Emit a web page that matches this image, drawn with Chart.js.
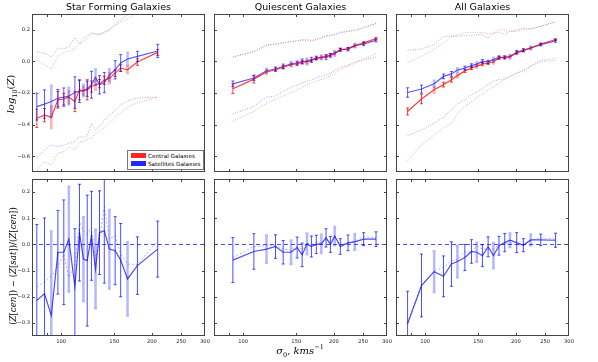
<!DOCTYPE html>
<html>
<head>
<meta charset="utf-8">
<script src="https://cdn.jsdelivr.net/npm/chart.js@4.4.1/dist/chart.umd.min.js"></script>
<style>
    body { margin: 0; background: #fff; }
    #wrap { position: relative; width: 598px; height: 362px; overflow: hidden; font-family: "DejaVu Sans", sans-serif; }
    canvas { position: absolute; }
    .title { position: absolute; top: 1px; width: 173px; text-align: center; font-size: 9.5px; color: #000; }
    .ylab { position: absolute; white-space: nowrap; font-family: "DejaVu Serif", serif; color: #000; transform: translate(-50%, -50%) rotate(-90deg); }
    .xlab { position: absolute; white-space: nowrap; font-family: "DejaVu Serif", serif; color: #000; transform: translate(-50%, -50%); font-size: 10px; }
    sub, sup { font-size: 65%; }
    #legend { position: absolute; left: 127px; top: 150px; width: 75px; height: 18px; border: 1px solid #777; background: #fff; font-size: 5.7px; }
    #legend div { position: absolute; left: 3px; height: 6px; line-height: 6px; white-space: nowrap; }
    #legend span { display: inline-block; width: 15px; height: 5px; margin-right: 2px; vertical-align: top; }
</style>
</head>
<body>
<div id="wrap">
    <canvas id="sfTop" width="213" height="186" style="left:2px;top:0px"></canvas>
    <canvas id="qTop" width="213" height="186" style="left:184px;top:0px"></canvas>
    <canvas id="allTop" width="213" height="186" style="left:366px;top:0px"></canvas>
    <canvas id="sfBot" width="213" height="185" style="left:2px;top:165px"></canvas>
    <canvas id="qBot" width="213" height="185" style="left:184px;top:165px"></canvas>
    <canvas id="allBot" width="213" height="185" style="left:366px;top:165px"></canvas>

    <div class="title" style="left:32px">Star Forming Galaxies</div>
    <div class="title" style="left:214px">Quiescent Galaxies</div>
    <div class="title" style="left:396px">All Galaxies</div>

    <div class="ylab" style="left:12px;top:94px;font-size:10px"><i>log</i><sub>10</sub>(<i>Z</i>)</div>
    <div class="ylab" style="left:13px;top:266px;font-size:8.6px">(<i>Z</i>[<i>cen</i>]) &minus; (<i>Z</i>[<i>sat</i>])/(<i>Z</i>[<i>cen</i>])</div>
    <div class="xlab" style="left:300px;top:351px"><i>&sigma;</i><sub>0</sub>, <i>kms</i><sup>&minus;1</sup></div>

    <div id="legend">
        <div style="top:2px"><span style="background:rgba(255,0,0,0.85)"></span>Central Galaxies</div>
        <div style="top:10px"><span style="background:rgba(0,0,255,0.85)"></span>Satellites Galaxies</div>
    </div>
</div>

<script>
// axes
const xTicks = [90, 100, 150, 200, 250, 300];
const xTickLabels = ['', '100', '150', '200', '250', '300'];
const topYTicks = [-0.6, -0.4, -0.2, 0.0, 0.2];
const botYTicks = [-0.3, -0.2, -0.1, 0.0, 0.1, 0.2];

// Star forming
const sfX = [83, 88, 92.7, 97.5, 102, 106, 111, 115, 118.5, 122, 126, 130, 134, 139, 144.5, 151, 157.5, 166, 179, 209];
const sfCen = [-0.36, -0.34, -0.353, -0.243, -0.238, -0.226, -0.254, -0.18, -0.186, -0.18, -0.159, -0.148, -0.141, -0.12, -0.106, -0.074, -0.042, -0.053, -0.004, 0.057];
const sfCenErr = [0.058, 0.042, 0.069, 0.053, 0.037, 0.037, 0.064, 0.064, 0.024, 0.064, 0.035, 0.032, 0.026, 0.026, 0.032, 0.021, 0.021, 0.021, 0.021, 0.019];
const sfSat = [-0.286, -0.27, -0.254, -0.233, -0.226, -0.22, -0.197, -0.19, -0.184, -0.173, -0.148, -0.10, -0.148, -0.134, -0.087, -0.053, -0.01, 0.015, 0.032, 0.066];
const sfSatErr = [0.085, 0.09, 0.10, 0.055, 0.058, 0.053, 0.10, 0.07, 0.037, 0.048, 0.085, 0.05, 0.058, 0.064, 0.037, 0.058, 0.053, 0.04, 0.032, 0.042];
const sfCenHi = [0.011, -0.021, -0.048, 0.032, 0.057, 0.064, 0.085, 0.11, 0.128, 0.145, 0.175, 0.172, 0.17, 0.185, 0.2, 0.228, 0.25, 0.268, 0.31, 0.37];
const sfSatHi = [0.06, 0.051, 0.028, 0.085, 0.08, 0.091, 0.15, 0.11, 0.148, 0.163, 0.18, 0.175, 0.17, 0.184, 0.2, 0.233, 0.265, 0.297, 0.34, 0.4];
const sfCenLo = [-0.688, -0.634, -0.656, -0.582, -0.571, -0.54, -0.56, -0.508, -0.508, -0.495, -0.486, -0.455, -0.44, -0.42, -0.39, -0.355, -0.325, -0.29, -0.262, -0.226];
const sfSatLo = [-0.613, -0.56, -0.529, -0.54, -0.529, -0.518, -0.51, -0.476, -0.48, -0.47, -0.391, -0.437, -0.41, -0.375, -0.34, -0.31, -0.275, -0.25, -0.232, -0.226];
const sfDiff = [-0.214, -0.189, -0.271, -0.03, -0.03, 0.02, -0.16, 0.045, -0.056, -0.062, 0.033, -0.094, 0.045, 0.052, -0.018, -0.024, -0.06, -0.132, -0.081, -0.018];
const sfDiffErr = [0.29, 0.29, 0.32, 0.16, 0.2, 0.2, 0.22, 0.185, 0.16, 0.25, 0.17, 0.15, 0.16, 0.2, 0.15, 0.13, 0.14, 0.14, 0.11, 0.107];
const sfDiffAlt = [-0.163, -0.144, -0.12, -0.088, -0.037, -0.126, -0.075, 0.09, 0.052, 0.04, 0.064, -0.056, 0.026, 0.143, 0.02, 0.033, -0.037, -0.075, -0.077, 0.014];

// Quiescent
const qX = [92.4, 108.5, 119.5, 128, 135.7, 144.2, 151, 156.9, 162.8, 168.4, 174.8, 181.6, 188.3, 194.7, 201.2, 210, 222.8, 234.5, 251, 275.9];
const qCen = [-0.173, -0.112, -0.067, -0.053, -0.036, -0.021, -0.015, -0.006, -0.002, 0.004, 0.019, 0.025, 0.032, 0.041, 0.053, 0.074, 0.081, 0.1, 0.117, 0.144];
const qCenErr = [0.03, 0.025, 0.012, 0.01, 0.01, 0.01, 0.01, 0.01, 0.01, 0.008, 0.008, 0.008, 0.008, 0.008, 0.008, 0.008, 0.008, 0.008, 0.008, 0.008];
const qSat = [-0.142, -0.105, -0.059, -0.048, -0.032, -0.015, -0.01, 0.0, 0.0, 0.011, 0.021, 0.025, 0.028, 0.038, 0.049, 0.074, 0.077, 0.1, 0.11, 0.133];
const qSatErr = [0.018, 0.015, 0.012, 0.012, 0.015, 0.012, 0.012, 0.015, 0.018, 0.015, 0.012, 0.012, 0.015, 0.012, 0.015, 0.01, 0.01, 0.01, 0.01, 0.01];
const qCenHi = [0.028, 0.06, 0.1, 0.11, 0.115, 0.125, 0.13, 0.14, 0.13, 0.128, 0.135, 0.15, 0.16, 0.163, 0.172, 0.185, 0.19, 0.2, 0.215, 0.24];
const qSatHi = [0.028, 0.064, 0.105, 0.11, 0.12, 0.125, 0.13, 0.133, 0.138, 0.133, 0.14, 0.15, 0.163, 0.165, 0.17, 0.18, 0.19, 0.195, 0.21, 0.24];
const qCenLo = [-0.376, -0.317, -0.264, -0.24, -0.218, -0.195, -0.18, -0.165, -0.15, -0.137, -0.125, -0.115, -0.106, -0.09, -0.075, -0.053, -0.03, -0.011, 0.015, 0.049];
const qSatLo = [-0.332, -0.285, -0.226, -0.22, -0.19, -0.163, -0.15, -0.135, -0.125, -0.116, -0.105, -0.095, -0.085, -0.074, -0.06, -0.036, -0.025, -0.005, 0.01, 0.028];
const qDiff = [-0.06, -0.027, -0.018, -0.008, -0.03, -0.03, -0.012, -0.04, 0.002, -0.008, 0.0, 0.002, 0.025, 0.0, 0.032, -0.008, 0.006, 0.01, 0.02, 0.02];
const qDiffErr = [0.086, 0.068, 0.052, 0.045, 0.045, 0.045, 0.04, 0.045, 0.04, 0.04, 0.035, 0.035, 0.035, 0.03, 0.035, 0.03, 0.03, 0.03, 0.025, 0.028];
const qDiffAlt = [-0.05, -0.008, -0.005, -0.003, -0.018, -0.022, -0.006, -0.02, 0.005, 0.0, 0.008, 0.005, 0.018, 0.01, 0.025, 0.0, 0.008, 0.012, 0.03, 0.025];

// All
const allX = [87.4, 97.2, 107.1, 115, 122.2, 127.9, 135.4, 142.4, 148.3, 154.8, 161.7, 168.4, 175.7, 183.6, 191.1, 201.2, 211.7, 223.9, 241.8, 270.7];
const allCen = [-0.317, -0.238, -0.18, -0.147, -0.116, -0.09, -0.06, -0.042, -0.03, -0.017, -0.01, -0.004, 0.022, 0.025, 0.032, 0.053, 0.07, 0.085, 0.11, 0.138];
const allCenErr = [0.022, 0.03, 0.018, 0.015, 0.015, 0.012, 0.01, 0.01, 0.01, 0.01, 0.01, 0.01, 0.008, 0.008, 0.008, 0.008, 0.008, 0.006, 0.006, 0.006];
const allSat = [-0.197, -0.175, -0.142, -0.095, -0.079, -0.055, -0.042, -0.027, -0.017, 0.0, -0.003, 0.011, 0.025, 0.025, 0.028, 0.059, 0.07, 0.085, 0.106, 0.129];
const allSatErr = [0.03, 0.025, 0.02, 0.015, 0.015, 0.012, 0.012, 0.012, 0.012, 0.012, 0.01, 0.012, 0.01, 0.01, 0.01, 0.01, 0.01, 0.008, 0.008, 0.008];
const allCenHi = [-0.006, 0.032, 0.078, 0.116, 0.155, 0.168, 0.18, 0.184, 0.184, 0.182, 0.175, 0.178, 0.2, 0.2, 0.19, 0.2, 0.212, 0.205, 0.222, 0.25];
const allSatHi = [0.07, 0.078, 0.106, 0.159, 0.159, 0.16, 0.162, 0.163, 0.168, 0.17, 0.148, 0.178, 0.185, 0.17, 0.19, 0.19, 0.205, 0.205, 0.222, 0.25];
const allCenLo = [-0.629, -0.529, -0.465, -0.423, -0.391, -0.33, -0.285, -0.254, -0.23, -0.205, -0.18, -0.159, -0.14, -0.112, -0.095, -0.074, -0.053, -0.027, 0.006, 0.021];
const allSatLo = [-0.47, -0.434, -0.391, -0.353, -0.307, -0.27, -0.243, -0.211, -0.195, -0.172, -0.145, -0.125, -0.114, -0.112, -0.095, -0.074, -0.063, -0.032, 0.0, 0.006];
const allDiff = [-0.303, -0.157, -0.104, -0.122, -0.075, -0.065, -0.05, -0.027, -0.03, -0.043, -0.009, -0.043, -0.005, 0.007, 0.016, 0.007, -0.003, 0.017, 0.017, 0.016];
const allDiffErr = [0.124, 0.12, 0.078, 0.078, 0.085, 0.06, 0.05, 0.045, 0.036, 0.042, 0.038, 0.048, 0.036, 0.035, 0.026, 0.038, 0.025, 0.021, 0.022, 0.027];
const allDiffAlt = [-0.3, -0.155, -0.1, -0.088, -0.062, -0.058, -0.027, -0.03, -0.006, -0.018, -0.018, -0.018, 0.0, 0.003, 0.006, -0.002, 0.0, 0.014, 0.026, 0.02];

const RED = 'rgba(255,0,0,0.75)';
const BLUE = 'rgba(0,0,255,0.65)';

function pts(xs, ys) {
    return xs.map((x, i) => ({ x: x, y: ys[i] }));
}

function solid(xs, ys, errs, color) {
    return { data: pts(xs, ys), borderColor: color, borderWidth: 1.2, errors: errs, barColor: color, order: 0 };
}

function dotted(xs, ys, color) {
    return { data: pts(xs, ys), borderColor: color, borderWidth: 1, borderDash: [1, 1.5], order: 2 };
}

// error bars, every third one drawn wide and faint like the reference
const errorBars = {
    id: 'errorBars',
    afterDatasetsDraw(chart) {
        const { ctx, chartArea: a } = chart;
        const x = chart.scales.x, y = chart.scales.y;
        ctx.save();
        ctx.beginPath();
        ctx.rect(a.left, a.top, a.width, a.height);
        ctx.clip();
        chart.data.datasets.forEach(ds => {
            if (!ds.errors) return;
            ds.data.forEach((p, i) => {
                const px = x.getPixelForValue(p.x);
                const top = y.getPixelForValue(p.y + ds.errors[i]);
                const bot = y.getPixelForValue(p.y - ds.errors[i]);
                const faint = i % 3 === 2;
                ctx.globalAlpha = faint ? 0.4 : 1;
                ctx.strokeStyle = ds.barColor;
                ctx.lineWidth = faint ? 2.5 : 1;
                ctx.beginPath();
                ctx.moveTo(px, top);
                ctx.lineTo(px, bot);
                ctx.moveTo(px - 1.5, top);
                ctx.lineTo(px + 1.5, top);
                ctx.moveTo(px - 1.5, bot);
                ctx.lineTo(px + 1.5, bot);
                ctx.stroke();
            });
        });
        ctx.restore();
    }
};

// frame, inward ticks and the dashed zero line
const frame = {
    id: 'frame',
    afterDraw(chart, args, opts) {
        const { ctx, chartArea: a } = chart;
        const x = chart.scales.x, y = chart.scales.y;
        ctx.save();
        if (opts.zero) {
            const zy = Math.round(y.getPixelForValue(0)) + 0.5;
            ctx.strokeStyle = 'rgba(0,0,255,0.7)';
            ctx.lineWidth = 1;
            ctx.setLineDash([4, 3]);
            ctx.beginPath();
            ctx.moveTo(a.left, zy);
            ctx.lineTo(a.right, zy);
            ctx.stroke();
            ctx.setLineDash([]);
        }
        ctx.strokeStyle = '#444';
        ctx.lineWidth = 1;
        ctx.beginPath();
        x.ticks.forEach(t => {
            const px = Math.round(x.getPixelForValue(t.value)) + 0.5;
            if (px >= a.right - 1) return;
            ctx.moveTo(px, a.bottom); ctx.lineTo(px, a.bottom - 3);
            ctx.moveTo(px, a.top); ctx.lineTo(px, a.top + 3);
        });
        y.ticks.forEach(t => {
            const py = Math.round(y.getPixelForValue(t.value)) + 0.5;
            ctx.moveTo(a.left, py); ctx.lineTo(a.left + 3, py);
            ctx.moveTo(a.right, py); ctx.lineTo(a.right - 3, py);
        });
        ctx.stroke();
        ctx.strokeRect(Math.round(a.left) + 0.5, Math.round(a.top) + 0.5, Math.round(a.width) - 1, Math.round(a.height) - 1);
        ctx.restore();
    }
};

function panel(id, datasets, isTop, showY) {
    const yTicks = isTop ? topYTicks : botYTicks;
    new Chart(document.getElementById(id).getContext('2d'), {
        type: 'line',
        data: { datasets: datasets },
        options: {
            responsive: false,
            animation: false,
            devicePixelRatio: 1,
            layout: { padding: { left: 0, right: 10, top: 14, bottom: 0 } },
            elements: { point: { radius: 0 }, line: { tension: 0 } },
            plugins: { legend: { display: false }, tooltip: { enabled: false }, frame: { zero: !isTop } },
            scales: {
                x: {
                    type: 'logarithmic',
                    min: 80,
                    max: 300,
                    grid: { display: false, drawTicks: false },
                    border: { display: false },
                    afterBuildTicks: s => { s.ticks = xTicks.map(v => ({ value: v })); },
                    afterFit: s => { s.height = 14; },
                    ticks: {
                        display: !isTop,
                        autoSkip: false,
                        maxRotation: 0,
                        padding: 3,
                        color: '#222',
                        font: { size: 5.2, family: 'DejaVu Sans' },
                        callback: (v, i) => xTickLabels[i]
                    }
                },
                y: {
                    min: isTop ? -0.7 : -0.35,
                    max: isTop ? 0.3 : 0.25,
                    grid: { display: false, drawTicks: false },
                    border: { display: false },
                    afterBuildTicks: s => { s.ticks = yTicks.map(v => ({ value: v })); },
                    afterFit: s => { s.width = 30; },
                    ticks: {
                        display: showY,
                        padding: 2,
                        color: '#222',
                        font: { size: 5.2, family: 'DejaVu Sans' },
                        callback: v => (v < -1e-9 ? '\u2212' : '') + Math.abs(v).toFixed(1)
                    }
                }
            }
        },
        plugins: [errorBars, frame]
    });
}

function topSets(xs, cen, cenErr, sat, satErr, cenHi, satHi, cenLo, satLo) {
    return [
        solid(xs, cen, cenErr, RED),
        solid(xs, sat, satErr, BLUE),
        dotted(xs, cenHi, 'rgba(255,0,0,0.35)'),
        dotted(xs, satHi, 'rgba(0,0,255,0.35)'),
        dotted(xs, cenLo, 'rgba(255,0,0,0.35)'),
        dotted(xs, satLo, 'rgba(0,0,255,0.35)')
    ];
}

function botSets(xs, diff, diffErr, alt) {
    return [
        solid(xs, diff, diffErr, 'rgba(0,0,255,0.7)'),
        { data: pts(xs, alt), borderColor: 'rgba(0,0,255,0.3)', borderWidth: 1, borderDash: [2, 2], order: 2 }
    ];
}

panel('sfTop', topSets(sfX, sfCen, sfCenErr, sfSat, sfSatErr, sfCenHi, sfSatHi, sfCenLo, sfSatLo), true, true);
panel('qTop', topSets(qX, qCen, qCenErr, qSat, qSatErr, qCenHi, qSatHi, qCenLo, qSatLo), true, false);
panel('allTop', topSets(allX, allCen, allCenErr, allSat, allSatErr, allCenHi, allSatHi, allCenLo, allSatLo), true, false);
panel('sfBot', botSets(sfX, sfDiff, sfDiffErr, sfDiffAlt), false, true);
panel('qBot', botSets(qX, qDiff, qDiffErr, qDiffAlt), false, false);
panel('allBot', botSets(allX, allDiff, allDiffErr, allDiffAlt), false, false);
</script>
</body>
</html>
